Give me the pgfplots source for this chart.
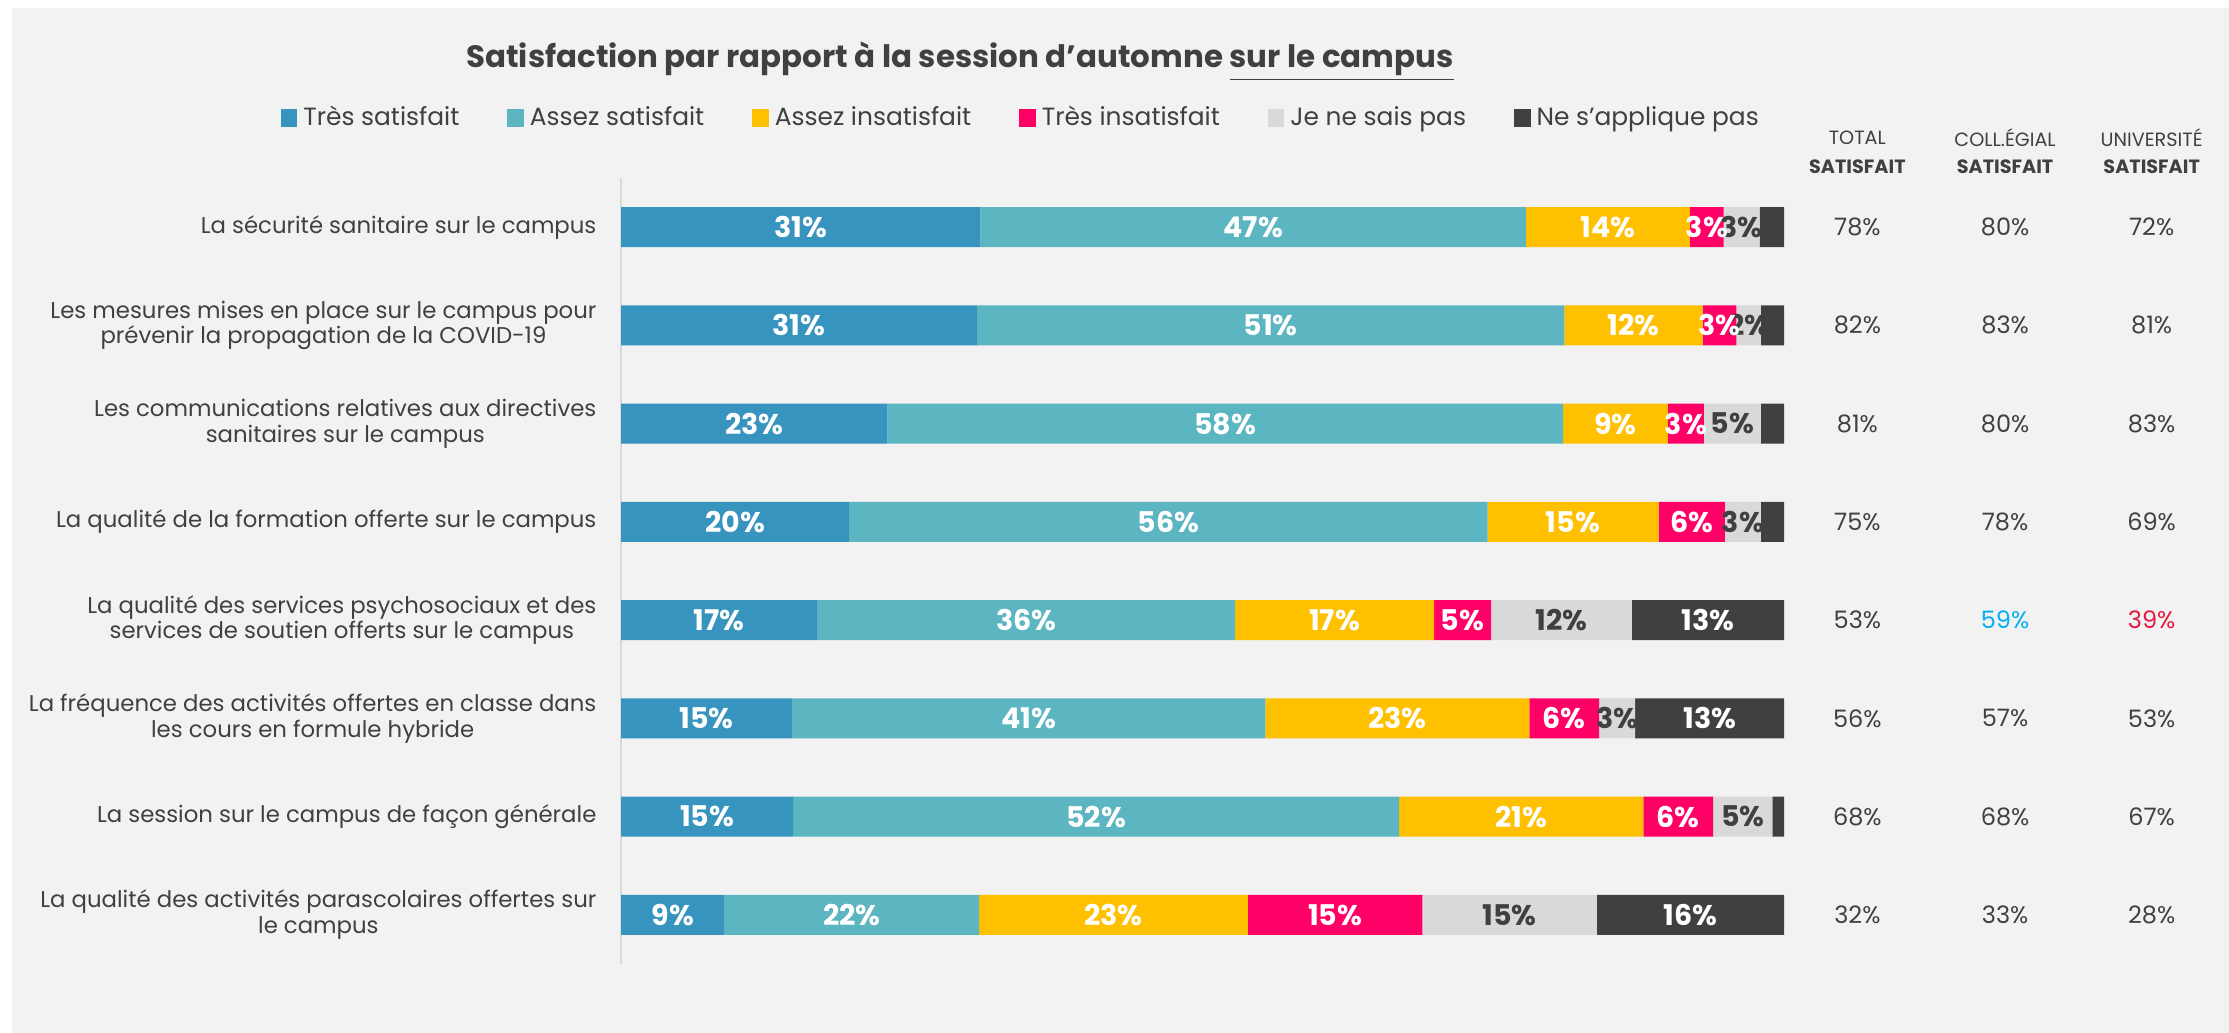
\documentclass[border=0pt]{standalone}
\usepackage{pgfplots}
\pgfplotsset{compat=1.18}
\usepackage{fontspec}
\setmainfont{Poppins}

\definecolor{cBlue}{HTML}{3694BE}
\definecolor{cTeal}{HTML}{5BB6C1}
\definecolor{cYellow}{HTML}{FFC000}
\definecolor{cPink}{HTML}{FF0066}
\definecolor{cLgray}{HTML}{D9D9D9}
\definecolor{cDgray}{HTML}{404040}
\definecolor{cText}{HTML}{404040}
\definecolor{cBg}{HTML}{F2F2F2}
\definecolor{cCyan}{HTML}{00B0F0}
\definecolor{cRed}{HTML}{E7173D}

\pgfplotsset{
  sq legend/.style={legend image code/.code={\fill[##1] (0pt,-3pt) rectangle (5.5pt,3pt);}},
  seg/.style={fill=#1, draw=none, sq legend},
}

\begin{document}
\begin{tikzpicture}
\path[use as bounding box] (0,0) rectangle (743pt,344.33pt);
\fill[cBg] (4pt,0) rectangle (743pt,341.67pt);
\begin{axis}[
  at={(207pt,23pt)}, anchor=south west,
  scale only axis, width=387.7pt, height=262pt,
  xbar stacked, bar width=13.3pt,
  xmin=0, xmax=100, ymin=0.5, ymax=8.5, y dir=reverse,
  axis x line=none, axis y line*=left,
  y axis line style={draw=cLgray, line width=0.6pt, -},
  ytick={1,...,8}, major tick length=0pt,
  yticklabels={
    La sécurité sanitaire sur le campus,
    {Les mesures mises en place sur le campus pour\\prévenir la propagation de la COVID-19},
    {Les communications relatives aux directives\\sanitaires sur le campus},
    La qualité de la formation offerte sur le campus,
    {La qualité des services psychosociaux et des\\services de soutien offerts sur le campus},
    {La fréquence des activités offertes en classe dans\\les cours en formule hybride},
    La session sur le campus de façon générale,
    {La qualité des activités parascolaires offertes sur\\le campus}},
  yticklabel style={align=center, font=\fontsize{7.6}{8.6}\selectfont, text=cText, inner sep=0pt, xshift=-8pt},
  clip=false,
  point meta=explicit symbolic,
  nodes near coords={\pgfplotspointmeta},
  every node near coord/.append style={font=\bfseries\fontsize{9.5}{10}\selectfont, text=white},
  legend columns=6,
  legend style={at={(axis description cs:-0.293,1.076)}, anchor=west, draw=none, fill=none,
    inner sep=0pt, font=\fontsize{8.3}{9.3}\selectfont, text=cText,
    /tikz/every even column/.append style={column sep=14pt}},
]
\addplot[seg=cBlue] coordinates {
  (30.9,1) [31\%] (30.6,2) [31\%] (22.9,3) [23\%] (19.6,4) [20\%]
  (16.9,5) [17\%] (14.7,6) [15\%] (14.8,7) [15\%] (8.9,8) [9\%]};
\addplot[seg=cTeal] coordinates {
  (46.9,1) [47\%] (50.5,2) [51\%] (58.1,3) [58\%] (54.9,4) [56\%]
  (35.9,5) [36\%] (40.7,6) [41\%] (52.1,7) [52\%] (21.9,8) [22\%]};
\addplot[seg=cYellow] coordinates {
  (14.1,1) [14\%] (11.9,2) [12\%] (9.0,3) [9\%] (14.7,4) [15\%]
  (17.1,5) [17\%] (22.7,6) [23\%] (21.0,7) [21\%] (23.1,8) [23\%]};
\addplot[seg=cPink] coordinates {
  (2.9,1) [3\%] (2.9,2) [3\%] (3.1,3) [3\%] (5.7,4) [6\%]
  (4.9,5) [5\%] (6.0,6) [6\%] (6.0,7) [6\%] (15.0,8) [15\%]};
\addplot[seg=cLgray, every node near coord/.append style={text=cDgray}] coordinates {
  (3.1,1) [3\%] (2.1,2) [2\%] (4.9,3) [5\%] (3.1,4) [3\%]
  (12.1,5) [12\%] (3.1,6) [3\%] (5.1,7) [5\%] (15.0,8) [15\%]};
\addplot[seg=cDgray] coordinates {
  (2.1,1) [{}] (2.0,2) [{}] (2.0,3) [{}] (2.0,4) [{}]
  (13.1,5) [13\%] (12.8,6) [13\%] (1.0,7) [{}] (16.1,8) [16\%]};
\legend{Très satisfait, Assez satisfait, Assez insatisfait, Très insatisfait, Je ne sais pas, Ne s’applique pas}

\node[font=\bfseries\fontsize{10.3}{11}\selectfont, text=cText] at (axis description cs:0.2915,1.148)
  {Satisfaction par rapport à la session d’automne \underline{sur le campus}};

\tikzset{hd/.style={font=\fontsize{6.4}{7}\selectfont, text=cText},
         hb/.style={font=\bfseries\fontsize{6.4}{7}\selectfont, text=cText},
         vl/.style={font=\fontsize{8}{9}\selectfont, text=cText}}
\node[hd] at (axis cs:106.3,0.093) {TOTAL};
\node[hb] at (axis cs:106.3,0.388) {SATISFAIT};
\node[hd] at (axis cs:119.0,0.093) {COLL.ÉGIAL};
\node[hb] at (axis cs:119.0,0.388) {SATISFAIT};
\node[hd] at (axis cs:131.6,0.093) {UNIVERSITÉ};
\node[hb] at (axis cs:131.6,0.388) {SATISFAIT};

\node[vl] at (axis cs:106.3,1) {78\%};
\node[vl] at (axis cs:119.0,1) {80\%};
\node[vl] at (axis cs:131.6,1) {72\%};
\node[vl] at (axis cs:106.3,2) {82\%};
\node[vl] at (axis cs:119.0,2) {83\%};
\node[vl] at (axis cs:131.6,2) {81\%};
\node[vl] at (axis cs:106.3,3) {81\%};
\node[vl] at (axis cs:119.0,3) {80\%};
\node[vl] at (axis cs:131.6,3) {83\%};
\node[vl] at (axis cs:106.3,4) {75\%};
\node[vl] at (axis cs:119.0,4) {78\%};
\node[vl] at (axis cs:131.6,4) {69\%};
\node[vl] at (axis cs:106.3,5) {53\%};
\node[vl, text=cCyan] at (axis cs:119.0,5) {59\%};
\node[vl, text=cRed] at (axis cs:131.6,5) {39\%};
\node[vl] at (axis cs:106.3,6) {56\%};
\node[vl] at (axis cs:119.0,6) {57\%};
\node[vl] at (axis cs:131.6,6) {53\%};
\node[vl] at (axis cs:106.3,7) {68\%};
\node[vl] at (axis cs:119.0,7) {68\%};
\node[vl] at (axis cs:131.6,7) {67\%};
\node[vl] at (axis cs:106.3,8) {32\%};
\node[vl] at (axis cs:119.0,8) {33\%};
\node[vl] at (axis cs:131.6,8) {28\%};
\end{axis}
\end{tikzpicture}
\end{document}
